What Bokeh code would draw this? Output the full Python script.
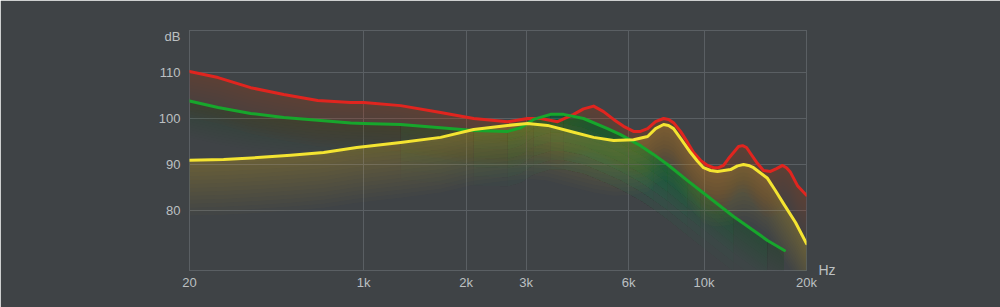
import math
from bokeh.plotting import figure
from bokeh.models import FixedTicker, CustomJSTickFormatter, LinearAxis, Range1d
from bokeh.embed import file_html
from bokeh.resources import INLINE

# ---- data (frequency in Hz, level in dB) ----
red_freq = [20, 38, 79, 166, 356, 747, 1000, 1284, 1683, 2104, 2648, 3031, 3311, 3714,
            4138, 4426, 4737, 5068, 5423, 5803, 6207, 6507, 6826, 7204, 7605, 7866, 8135,
            8531, 8944, 9315, 9766, 10240, 10665, 11030, 11410, 11800, 12210, 12630,
            12980, 13330, 13700, 14360, 14950, 15680, 16330, 17010, 17470, 17950, 18820,
            20000]
red_db = [110.2, 108.9, 106.7, 105.2, 103.9, 103.5, 103.5, 102.8, 101.3, 100.0, 99.3, 100.0,
          100.0, 99.3, 100.9, 102.1, 102.7, 101.5, 99.8, 98.3, 97.2, 97.2, 97.8, 99.3, 100.0,
          99.8, 99.1, 97.2, 94.8, 92.6, 90.9, 89.8, 89.3, 89.3, 89.8, 91.3, 92.6, 93.9, 94.1,
          93.7, 92.4, 90.2, 88.7, 88.5, 89.1, 89.8, 89.3, 88.3, 85.4, 83.3]

green_freq = [20, 38, 79, 166, 356, 747, 1000, 1284, 1683, 2104, 2648, 2891, 3157, 3541,
              3867, 4426, 5206, 5685, 6507, 7107, 7813, 8944, 9766, 12210, 15360, 17230]
green_db = [103.8, 102.4, 101.1, 100.2, 99.6, 99.0, 98.9, 98.7, 98.0, 97.4, 97.2, 98.0, 99.8,
            100.9, 100.9, 100.0, 97.8, 96.5, 94.1, 92.2, 90.0, 86.5, 84.3, 78.7, 73.5, 71.3]

yellow_freq = [20, 43, 92, 194, 407, 855, 1284, 1683, 2104, 2648, 3031, 3470, 4138, 4737,
               5423, 6207, 6826, 7204, 7605, 7866, 8135, 8531, 9126, 9570, 9965, 10450,
               10957, 11960, 12540, 13060, 13510, 13980, 15360, 16220, 17120, 18570, 20000]
yellow_db = [90.9, 91.1, 91.5, 92.0, 92.6, 93.7, 94.8, 95.9, 97.6, 98.5, 98.9, 98.5, 97.0,
             95.9, 95.2, 95.4, 96.1, 97.8, 98.7, 98.5, 97.8, 95.7, 92.6, 90.7, 89.3, 88.7,
             88.5, 88.9, 89.7, 90.0, 89.8, 89.3, 87.0, 84.3, 81.5, 77.4, 72.8]

x_tick_hz = [20, 1000, 2000, 3000, 6000, 10000, 20000]
x_tick_labels = ["20", "1k", "2k", "3k", "6k", "10k", "20k"]
y_ticks = [80, 90, 100, 110]
y_unit_label = "dB"
x_unit_label = "Hz"

# ---- styling ----
BG = "#3f4346"
GRID = "#5a5f63"
TEXT = "#bcc0c2"
FONT = "Liberation Sans"
RED = "#e0251f"
GREEN = "#17a62c"
YELLOW = "#f4e431"


def xpos(f):
    """Axis position: compressed log segment 20 Hz..1 kHz, octave scale above."""
    if f <= 1000:
        return 1.70 * math.log10(f / 20.0) / math.log10(50.0)
    return 1.70 + math.log2(f / 1000.0)


red_u = [xpos(f) for f in red_freq]
green_u = [xpos(f) for f in green_freq]
yellow_u = [xpos(f) for f in yellow_freq]
x_ticks = [xpos(f) for f in x_tick_hz]
Y_UNIT_POS = 117.8
Y_MIN, Y_MAX = 66.96, 119.13

p = figure(width=1000, height=307, output_backend="svg", toolbar_location=None,
           x_range=Range1d(0, xpos(20000)), y_range=Range1d(Y_MIN, Y_MAX),
           min_border_left=189, min_border_right=194, min_border_top=30,
           min_border_bottom=37)
p.background_fill_color = BG
p.border_fill_color = BG
p.outline_line_color = GRID
p.outline_line_width = 1

p.xgrid.ticker = FixedTicker(ticks=x_ticks)
p.ygrid.ticker = FixedTicker(ticks=y_ticks)
p.xgrid.grid_line_color = GRID
p.ygrid.grid_line_color = GRID
p.xgrid.grid_line_width = 1
p.ygrid.grid_line_width = 1

# axes
p.xaxis.ticker = FixedTicker(ticks=x_ticks)
p.xaxis.formatter = CustomJSTickFormatter(args=dict(tpos=x_ticks, tlab=x_tick_labels), code="""
let best = 0, bd = Infinity;
for (let i = 0; i < tpos.length; i++) {
  const d = Math.abs(tpos[i] - tick);
  if (d < bd) { bd = d; best = i; }
}
return tlab[best];
""")
p.yaxis.ticker = FixedTicker(ticks=y_ticks + [Y_UNIT_POS])
p.yaxis.formatter = CustomJSTickFormatter(args=dict(ulab=y_unit_label), code="""
return tick > 115 ? ulab : tick.toFixed(0);
""")

hz_axis = LinearAxis(ticker=FixedTicker(ticks=[Y_MIN + 0.05]),
                     formatter=CustomJSTickFormatter(args=dict(ulab=x_unit_label),
                                                     code="return ulab;"))
p.add_layout(hz_axis, "right")

for ax in (p.xaxis[0], p.yaxis[0], hz_axis):
    ax.axis_line_color = None
    ax.major_tick_line_color = None
    ax.minor_tick_line_color = None
    ax.major_tick_out = 0
    ax.major_tick_in = 0
    ax.minor_tick_out = 0
    ax.major_label_text_color = TEXT
    ax.major_label_text_font = FONT
    ax.major_label_text_font_size = "13px"
p.xaxis[0].major_label_standoff = 4
p.yaxis[0].major_label_standoff = 9
hz_axis.major_label_standoff = 12
hz_axis.major_label_text_font_size = "14px"


def add_fill(u, db, color, depth, total_alpha, n=14):
    a = 1 - (1 - total_alpha) ** (1.0 / n)
    for i in range(n):
        d = depth * (i + 1) / n
        p.varea(x=u, y1=[v - d for v in db], y2=db, fill_color=color, fill_alpha=a)


add_fill(red_u, red_db, RED, 10, 0.22)
add_fill(green_u, green_db, GREEN, 8, 0.08)
for lo, hi in [(7, 25), (9, 24), (10, 23), (12, 22), (13, 21), (14, 20)]:
    add_fill(green_u[lo:hi], green_db[lo:hi], GREEN, 12, 0.06, n=6)
add_fill(yellow_u, yellow_db, "#e6d03a", 12, 0.26)

p.line(red_u, red_db, line_color=RED, line_width=3, line_join="round", line_cap="round")
p.line(green_u, green_db, line_color=GREEN, line_width=3, line_join="round", line_cap="round")
p.line(yellow_u, yellow_db, line_color=YELLOW, line_width=3, line_join="round", line_cap="round")

open("out.html", "w").write(file_html(p, INLINE))
